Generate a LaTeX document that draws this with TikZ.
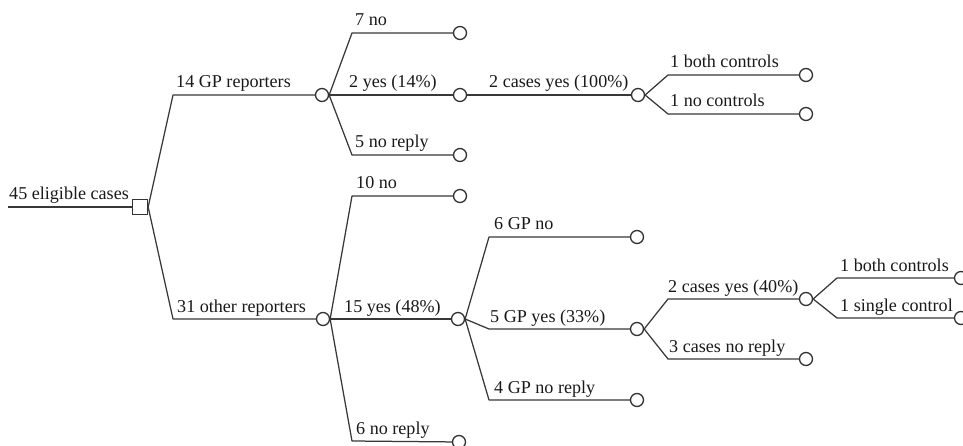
\documentclass[tikz,border=0pt]{standalone}
\usepackage{fontspec}
\setmainfont{Liberation Serif}
\usetikzlibrary{backgrounds}
\tikzset{
  edgeline/.style={draw=black!78, line width=1.25pt, line join=round},
  chance/.style={circle, draw=black!80, fill=white, line width=1.3pt, minimum size=13pt, inner sep=0pt},
  decision/.style={rectangle, draw=black!80, fill=white, line width=1.3pt, minimum size=15pt, inner sep=0pt},
  lbl/.style={anchor=base west, inner sep=0pt, text=black!90, font=\fontsize{18.1}{20}\selectfont},
}
\begin{document}
\begin{tikzpicture}[x=1pt,y=-1pt]
\useasboundingbox (0,0) rectangle (963,446);
% knees and free ends
\coordinate (s) at (8,207);
\coordinate (k1) at (173,95);
\coordinate (k2) at (173,319);
\coordinate (k3) at (352,33);
\coordinate (k4) at (352,155);
\coordinate (k5) at (668,75);
\coordinate (k6) at (668,114);
\coordinate (k7) at (352,196);
\coordinate (k8) at (352,441);
\coordinate (k9) at (489,237);
\coordinate (k10) at (489,329);
\coordinate (k11) at (489,400);
\coordinate (k12) at (668,299);
\coordinate (k13) at (668,359);
\coordinate (k14) at (837,278);
\coordinate (k15) at (837,318);
% nodes
\node[decision] (sq) at (140,207) {};
\node[chance] (c1) at (322,95) {};
\node[chance] (c2) at (323,319) {};
\node[chance] (e1) at (460,33) {};
\node[chance] (e2) at (460,95) {};
\node[chance] (e3) at (460,155) {};
\node[chance] (c4) at (638,95) {};
\node[chance] (e4) at (806,75) {};
\node[chance] (e5) at (806,114) {};
\node[chance] (e6) at (460,196) {};
\node[chance] (c3) at (458,319) {};
\node[chance] (e7) at (459,442) {};
\node[chance] (e8) at (637,237) {};
\node[chance] (c5) at (637,329) {};
\node[chance] (e9) at (637,400) {};
\node[chance] (c6) at (806,299) {};
\node[chance] (e10) at (806,359) {};
\node[chance] (e11) at (961,278) {};
\node[chance] (e12) at (961,318) {};
% connectors
\begin{pgfonlayer}{background}
\draw[edgeline] (s) -- (sq.west);
\draw[edgeline] (sq.east) -- (k1) -- (c1);
\draw[edgeline] (sq.east) -- (k2) -- (c2);
\draw[edgeline] (c1.east) -- (k3) -- (e1);
\draw[edgeline] (c1) -- (e2);
\draw[edgeline] (c1.east) -- (k4) -- (e3);
\draw[edgeline] (e2) -- (c4);
\draw[edgeline] (c4.east) -- (k5) -- (e4);
\draw[edgeline] (c4.east) -- (k6) -- (e5);
\draw[edgeline] (c2.east) -- (k7) -- (e6);
\draw[edgeline] (c2) -- (c3);
\draw[edgeline] (c2.east) -- (k8) -- (e7);
\draw[edgeline] (c3.east) -- (k9) -- (e8);
\draw[edgeline] (c3.east) -- (k10) -- (c5);
\draw[edgeline] (c3.east) -- (k11) -- (e9);
\draw[edgeline] (c5.east) -- (k12) -- (c6);
\draw[edgeline] (c5.east) -- (k13) -- (e10);
\draw[edgeline] (c6.east) -- (k14) -- (e11);
\draw[edgeline] (c6.east) -- (k15) -- (e12);
\end{pgfonlayer}
% labels
\node[lbl] (t0) at (9,200) {45 eligible cases};
\node[lbl] (t1) at (176,88) {14 GP reporters};
\node[lbl] (t2) at (177,312) {31 other reporters};
\node[lbl] (t3) at (355,26) {7 no};
\node[lbl] (t4) at (349,88) {2 yes (14\%)};
\node[lbl] (t5) at (355,148) {5 no reply};
\node[lbl] (t6) at (489,88) {2 cases yes (100\%)};
\node[lbl] (t7) at (670,68) {1 both controls};
\node[lbl] (t8) at (670,107) {1 no controls};
\node[lbl] (t9) at (356,189) {10 no};
\node[lbl] (t10) at (344,312) {15 yes (48\%)};
\node[lbl] (t11) at (356,434) {6 no reply};
\node[lbl] (t12) at (494,230) {6 GP no};
\node[lbl] (t13) at (490,322) {5 GP yes (33\%)};
\node[lbl] (t14) at (494,393) {4 GP no reply};
\node[lbl] (t15) at (668,292) {2 cases yes (40\%)};
\node[lbl] (t16) at (669,352) {3 cases no reply};
\node[lbl] (t17) at (840,271) {1 both controls};
\node[lbl] (t18) at (840,311) {1 single control};
\end{tikzpicture}
\end{document}
